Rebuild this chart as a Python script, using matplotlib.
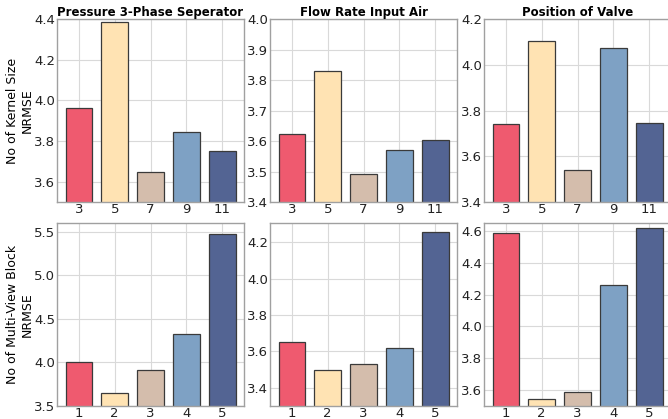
import matplotlib
matplotlib.use("Agg")
import matplotlib.pyplot as plt
import numpy as np

# ============================
# Datos
# ============================
titulos = ["Pressure 3-Phase Seperator", "Flow Rate Input Air", "Position of Valve"]
etiquetas_fila = ["No of Kernel Size\nNRMSE", "No of Multi-View Block\nNRMSE"]

kernel_sizes = ["3", "5", "7", "9", "11"]
num_bloques = ["1", "2", "3", "4", "5"]

kernel_presion = [3.962, 4.384, 3.648, 3.844, 3.751]
kernel_flujo = [3.623, 3.828, 3.493, 3.572, 3.602]
kernel_valvula = [3.740, 4.105, 3.542, 4.072, 3.747]

bloque_presion = [4.008, 3.645, 3.915, 4.328, 5.470]
bloque_flujo = [3.649, 3.495, 3.531, 3.620, 4.255]
bloque_valvula = [4.585, 3.544, 3.587, 4.263, 4.620]

limites_y = [[(3.5, 4.4), (3.4, 4.0), (3.4, 4.2)],
             [(3.5, 5.6), (3.3, 4.305), (3.5, 4.65)]]
ticks_y = [[[3.6, 3.8, 4.0, 4.2, 4.4], [3.4, 3.5, 3.6, 3.7, 3.8, 3.9, 4.0], [3.4, 3.6, 3.8, 4.0, 4.2]],
           [[3.5, 4.0, 4.5, 5.0, 5.5], [3.4, 3.6, 3.8, 4.0, 4.2], [3.6, 3.8, 4.0, 4.2, 4.4, 4.6]]]

colores = ["#EF5A6F", "#FFE3B3", "#D4BDAC", "#7EA1C4", "#536493"]

datos = [[kernel_presion, kernel_flujo, kernel_valvula],
         [bloque_presion, bloque_flujo, bloque_valvula]]
categorias = [kernel_sizes, num_bloques]

fig = plt.figure(figsize=(6.68, 4.19), dpi=100)

izquierdas = [57 / 668, 270 / 668, 484 / 668]
ancho = 187 / 668
alto = 183 / 419
abajos = [1 - 202 / 419, 1 - 406 / 419]

for fila in range(2):
    for col in range(3):
        ax = fig.add_axes([izquierdas[col], abajos[fila], ancho, alto])
        ax.set_axisbelow(True)
        ax.grid(True, color="#d9d9d9", linewidth=0.8)
        x = np.arange(len(categorias[fila]))
        ax.bar(x, datos[fila][col], width=0.75, color=colores,
               edgecolor="#3a3a3a", linewidth=0.9)
        ax.set_xticks(x)
        ax.set_xticklabels(categorias[fila])
        ax.set_ylim(*limites_y[fila][col])
        ax.set_yticks(ticks_y[fila][col])
        ax.tick_params(length=0, labelsize=9.5, colors="#222222")
        ax.tick_params(axis="x", pad=0.5)
        ax.tick_params(axis="y", pad=1.5)
        for s in ax.spines.values():
            s.set_color("#a0a0a0")
            s.set_linewidth(1.0)
        if fila == 0:
            ax.set_title(titulos[col], fontsize=8.5, fontweight="bold", pad=2)
        if col == 0:
            ax.set_ylabel(etiquetas_fila[fila], fontsize=9, labelpad=0)

fig.savefig("out.png", dpi=100)
